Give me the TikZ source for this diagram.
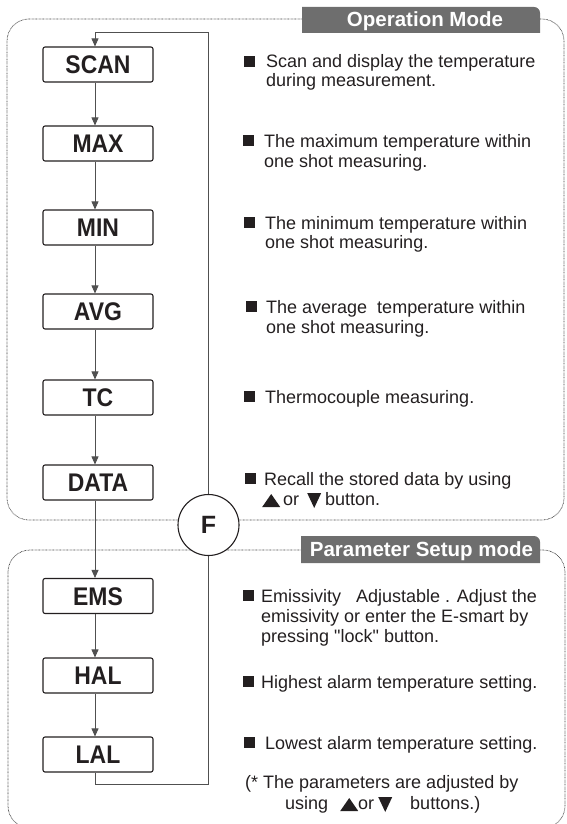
\documentclass[tikz,border=0pt]{standalone}
\usepackage{fontspec}
\setmainfont{Liberation Sans}
\usetikzlibrary{arrows.meta,calc}
\definecolor{ink}{HTML}{231F20}
\definecolor{hdrgray}{HTML}{6E6E6E}
\definecolor{linegray}{HTML}{505050}
\newcommand{\triup}{\tikz[baseline=0pt,x=1pt,y=1pt]\fill[ink] (0,-2)--(18,-2)--(9,11)--cycle;}
\newcommand{\tridn}{\tikz[baseline=0pt,x=1pt,y=1pt]\fill[ink] (0,12)--(14,12)--(7,-3)--cycle;}
\newcommand{\bul}[1]{\rule[1pt]{11pt}{11pt}\hspace{#1}}
\newcommand{\lbl}[1]{\scalebox{0.9}[1]{#1}}
\begin{document}
\begin{tikzpicture}[x=1pt,y=-1pt,
  mbox/.style={draw=ink, line width=1.1pt, rounded corners=2pt, minimum width=110pt, minimum height=35pt, inner sep=0pt, font=\fontsize{25.5}{26}\selectfont\bfseries, text height=18.3pt, text depth=0pt, fill=white, text=ink},
  arr/.style={draw=linegray, line width=0.8pt, -{Triangle[length=8pt,width=7pt]}},
  frame/.style={draw=black!75, line width=0.7pt, dash pattern=on 0.7pt off 0.7pt, rounded corners=22pt},
  desc/.style={anchor=base west, inner sep=0pt, font=\fontsize{18}{19}\selectfont, text=ink},
  hdrtext/.style={anchor=base, font=\fontsize{20.5}{21}\selectfont\bfseries, text=white, inner sep=0pt},
  fcircle/.style={circle, draw=ink, line width=1.1pt, fill=white, minimum size=61pt, inner sep=0pt, font=\fontsize{25}{25}\selectfont\bfseries, text=ink}
]
\useasboundingbox (0,0) rectangle (566,824);
% frames
\draw[frame] (7,19) rectangle (564,520);
\draw[frame] (8,550) rectangle (565,828);
% boxes
\node[mbox] (scan) at (98,64.5) {\lbl{SCAN}};
\node[mbox] (max) at (98,143.5) {\lbl{MAX}};
\node[mbox] (min) at (98,227.5) {\lbl{MIN}};
\node[mbox] (avg) at (98,311.5) {\lbl{AVG}};
\node[mbox] (tc) at (98,397.5) {\lbl{TC}};
\node[mbox] (data) at (98,482.5) {\lbl{DATA}};
\node[mbox] (ems) at (98,596) {\lbl{EMS}};
\node[mbox] (hal) at (98,675.5) {\lbl{HAL}};
\node[mbox] (lal) at (98,754.5) {\lbl{LAL}};
% connectors
\draw[arr] ([xshift=-3pt]scan.south) -- ([xshift=-3pt]max.north);
\draw[arr] ([xshift=-3pt]max.south) -- ([xshift=-3pt]min.north);
\draw[arr] ([xshift=-3pt]min.south) -- ([xshift=-3pt]avg.north);
\draw[arr] ([xshift=-3pt]avg.south) -- ([xshift=-3pt]tc.north);
\draw[arr] ([xshift=-3pt]tc.south) -- ([xshift=-3pt]data.north);
\draw[arr] ([xshift=-3pt]data.south) -- ([xshift=-3pt]ems.north);
\draw[arr] ([xshift=-3pt]ems.south) -- ([xshift=-3pt]hal.north);
\draw[arr] ([xshift=-3pt]hal.south) -- ([xshift=-3pt]lal.north);
\coordinate (lb) at (208,784);
\coordinate (lt) at (208,32);
\draw[arr] ([xshift=-3pt]lal.south) |- (lb) -- (lt) -| ([xshift=-3pt]scan.north);
% F circle
\node[fcircle] (f) at (208.5,525) {F};
% headers
\fill[hdrgray] (302,33) -- (302,7) [rounded corners=6pt] -- (540,7) [sharp corners] -- (540,33) -- cycle;
\node[hdrtext] (opm) at (425,27) {Operation Mode};
\fill[hdrgray] (301,563) -- (301,536) [rounded corners=6pt] -- (540,536) [sharp corners] -- (540,563) -- cycle;
\node[hdrtext] (psm) at (421.5,556) {Parameter Setup mode};
% descriptions
\node[desc] (t1a) at (244,68) {\bul{11pt}Scan and display the temperature};
\node[desc] (t1b) at (266,87) {during measurement.};
\node[desc] (t2a) at (243,147) {\bul{10pt}The maximum temperature within};
\node[desc] (t2b) at (264,167) {one shot measuring.};
\node[desc] (t3a) at (244,229) {\bul{10pt}The minimum temperature within};
\node[desc] (t3b) at (265,248) {one shot measuring.};
\node[desc] (t4a) at (246,313) {\bul{9pt}The average\ \ temperature within};
\node[desc] (t4b) at (266,333) {one shot measuring.};
\node[desc] (t5a) at (244,403) {\bul{10pt}Thermocouple measuring.};
\node[desc] (t6a) at (245,485) {\bul{8pt}Recall the stored data by using};
\node[desc] (t6b) at (262,505) {\triup\hspace{3pt}or\hspace{8pt}\tridn\hspace{4pt}button.};
\node[desc] (t7a) at (243,602) {\bul{7pt}Emissivity\ \ \ Adjustable . Adjust the};
\node[desc] (t7b) at (261,622) {emissivity or enter the E-smart by};
\node[desc] (t7c) at (261,642) {pressing \textquotedbl lock\textquotedbl\ button.};
\node[desc] (t8a) at (243,688) {\bul{7pt}Highest alarm temperature setting.};
\node[desc] (t9a) at (244,749) {\bul{10pt}Lowest alarm temperature setting.};
\node[desc] (t10a) at (245,788) {(* The parameters are adjusted by};
\node[desc] (t10b) at (285,809) {using\hspace{12pt}\triup or\hspace{4pt}\tridn\hspace{18pt}buttons.)};
\end{tikzpicture}
\end{document}
